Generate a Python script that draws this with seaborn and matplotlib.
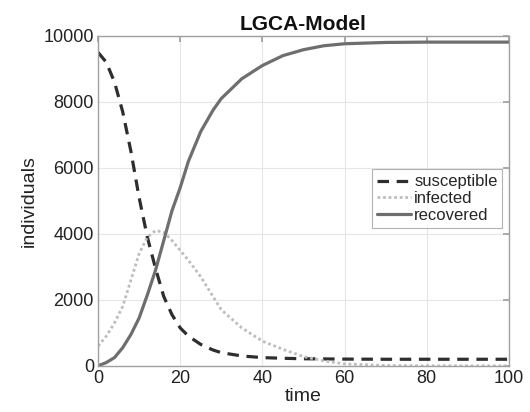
import numpy as np
import pandas as pd
import matplotlib
matplotlib.use("Agg")
import matplotlib.pyplot as plt
import seaborn as sns

time = [0, 2, 4, 6, 8, 10, 12, 14, 16, 18, 20, 22, 25, 28, 30, 35, 40, 45, 50, 55, 60, 70, 80, 90, 100]
susceptible = [9500, 9200, 8600, 7700, 6500, 5100, 3900, 2950, 2100, 1550, 1150, 900, 650, 480, 400, 300, 250, 230, 215, 210, 205, 200, 200, 200, 200]
infected = [600, 900, 1300, 1800, 2600, 3400, 3900, 4100, 4050, 3800, 3500, 3200, 2700, 2100, 1700, 1150, 750, 500, 280, 150, 60, 10, 0, 0, 0]
recovered = [0, 100, 250, 550, 950, 1450, 2150, 2900, 3800, 4700, 5400, 6200, 7100, 7750, 8100, 8700, 9100, 9400, 9580, 9700, 9760, 9800, 9810, 9810, 9810]

series_names = ["susceptible", "infected", "recovered"]
series_vals = [susceptible, infected, recovered]
df = pd.DataFrame({
    "time": np.tile(time, 3),
    "individuals": np.concatenate(series_vals),
    "series": np.repeat(series_names, len(time)),
})

sns.set_theme(style="white")
plt.rcParams["font.family"] = ["Liberation Sans", "DejaVu Sans"]

fig = plt.figure(figsize=(5.3, 4.12), dpi=100)
ax = fig.add_axes([0.185, 0.112, 0.775, 0.801])

styles = {
    "susceptible": dict(color="#2e2e2e", linestyle=(0, (3.6, 2.4)), linewidth=2.3),
    "infected": dict(color="#bdbdbd", linestyle=(0, (1, 1)), linewidth=2.0),
    "recovered": dict(color="#6e6e6e", linestyle="-", linewidth=2.3),
}
for name in series_names:
    sub = df[df["series"] == name]
    sns.lineplot(data=sub, x="time", y="individuals", ax=ax, label=name, **styles[name])

ax.set_xlim(0, 100)
ax.set_ylim(0, 10000)
ax.set_xticks([0, 20, 40, 60, 80, 100])
ax.set_yticks([0, 2000, 4000, 6000, 8000, 10000])
ax.grid(True, color="#e6e6e6", linewidth=0.8)
for s in ax.spines.values():
    s.set_color("#a0a0a0")
    s.set_linewidth(1.0)
ax.tick_params(axis="both", which="both", direction="in", length=4, color="#a0a0a0",
               top=True, right=True, labelsize=13, labelcolor="#222222", pad=3)
ax.set_xlabel("time", fontsize=14, color="#222222", labelpad=1)
ax.set_ylabel("individuals", fontsize=14, color="#222222", labelpad=4)
ax.set_title("LGCA-Model", fontsize=15, fontweight="bold", color="#111111", pad=4)

leg = ax.legend(loc="upper left", bbox_to_anchor=(0.668, 0.595), fontsize=12, frameon=True,
                handlelength=2.0, handletextpad=0.2, borderpad=0.3, labelspacing=0.1,
                fancybox=False, borderaxespad=0)
leg.get_frame().set_edgecolor("#a0a0a0")
leg.get_frame().set_linewidth(0.8)

fig.savefig("out.png", dpi=100, facecolor="white")
